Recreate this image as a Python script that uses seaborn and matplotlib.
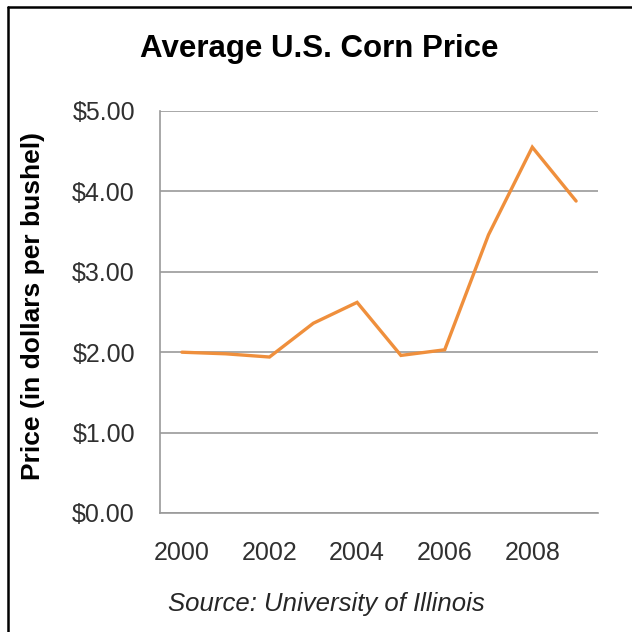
import matplotlib
matplotlib.use("Agg")
import matplotlib.pyplot as plt
from matplotlib.lines import Line2D
import seaborn as sns
import pandas as pd

# Average U.S. corn price, dollars per bushel
years = [2000, 2001, 2002, 2003, 2004, 2005, 2006, 2007, 2008, 2009]
prices = [2.00, 1.98, 1.94, 2.36, 2.62, 1.96, 2.03, 3.46, 4.55, 3.88]
year_ticks = [2000, 2002, 2004, 2006, 2008]
price_ticks = [0, 1, 2, 3, 4, 5]

sns.set_style("white")
plt.rcParams["font.family"] = ["Liberation Sans", "DejaVu Sans"]

df = pd.DataFrame({"year": years, "price": prices})

W = H = 632
fig = plt.figure(figsize=(W / 100, H / 100), dpi=100)
ax = fig.add_axes([160 / W, 1 - 513 / H, 438 / W, 402 / H])

sns.lineplot(data=df, x="year", y="price", ax=ax, color="#EF8F3C",
             linewidth=2.4, solid_joinstyle="miter", zorder=3)

ax.set_xlim(years[0] - 0.5, years[-1] + 0.5)
ax.set_ylim(price_ticks[0], price_ticks[-1])
ax.set_xticks(year_ticks)
ax.set_xticklabels([str(y) for y in year_ticks])
ax.set_yticks(price_ticks)
ax.set_yticklabels([f"${v:.2f}" for v in price_ticks])

grid_color = "#9A9A9A"
ax.yaxis.grid(True, color=grid_color, linewidth=1.2, zorder=1)
ax.xaxis.grid(False)
for side in ("top", "right"):
    ax.spines[side].set_visible(False)
for side in ("left", "bottom"):
    ax.spines[side].set_color(grid_color)
    ax.spines[side].set_linewidth(1.2)

ax.tick_params(axis="both", length=0, labelsize=18, labelcolor="#303030")
ax.tick_params(axis="y", pad=18)
ax.tick_params(axis="x", pad=20)

ax.set_xlabel("")
ax.set_ylabel("Price (in dollars per bushel)", fontsize=19, fontweight="bold",
              color="black")
ax.yaxis.set_label_coords((45 - 160) / 438, (513 - 306) / 402)

fig.text(319 / W, 1 - 49 / H, "Average U.S. Corn Price", ha="center",
         va="center", fontsize=22.5, fontweight="bold", color="black")
fig.text(326 / W, 1 - 604 / H, "Source: University of Illinois", ha="center",
         va="center", fontsize=18.5, fontstyle="italic", color="#262626")

# frame around the chart (left and top edges)
fig.add_artist(Line2D([8 / W, 8 / W], [0, 1 - 7 / H], transform=fig.transFigure,
                      color="black", linewidth=1.8))
fig.add_artist(Line2D([8 / W, 1], [1 - 7 / H, 1 - 7 / H], transform=fig.transFigure,
                      color="black", linewidth=1.8))

fig.savefig("out.png", dpi=100)
